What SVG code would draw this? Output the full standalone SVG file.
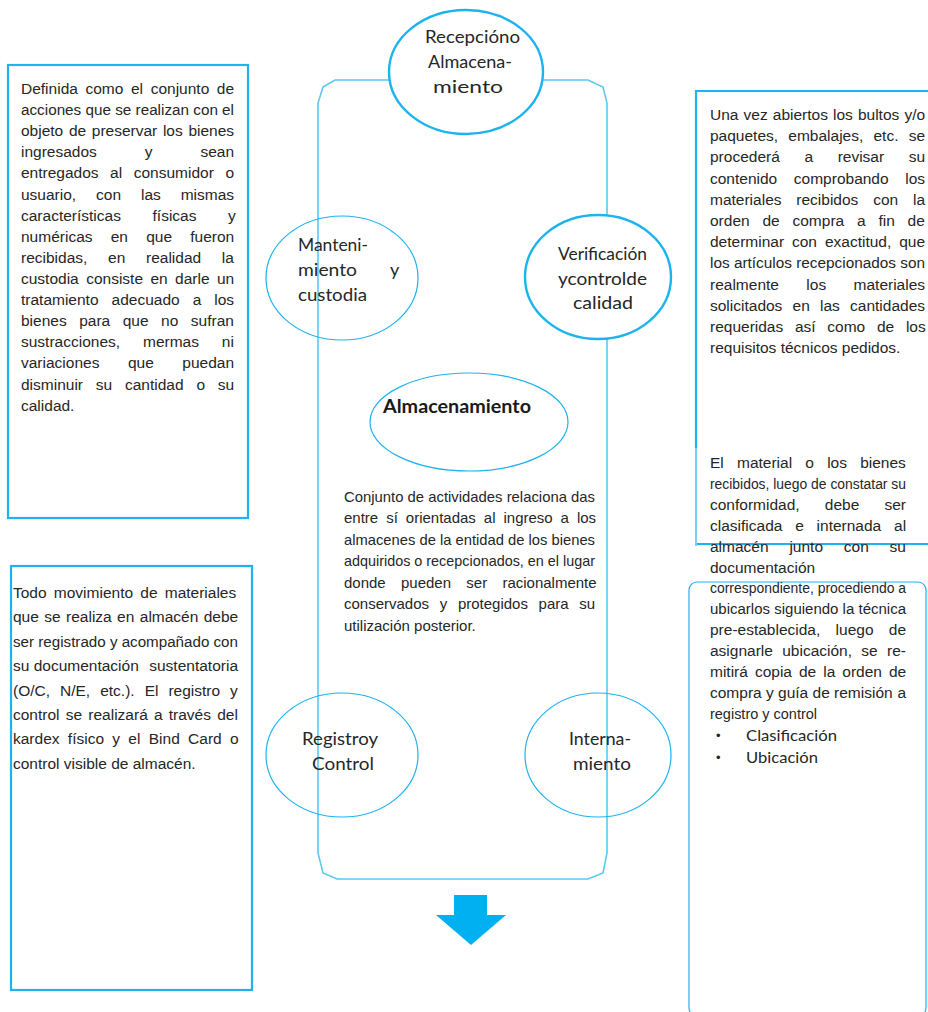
<svg xmlns="http://www.w3.org/2000/svg" width="928" height="1012" viewBox="0 0 928 1012">
<style>
.box{fill:none;stroke:#1DB3EE;stroke-width:2.2}
.thin{fill:none;stroke:#1DB3EE;stroke-width:1.2}
.loop{fill:none;stroke:#5CC8F2;stroke-width:1.6}
.ell{fill:none;stroke:#1DB3EE;stroke-width:1.2}
.ellb{fill:#fff;stroke:#1DB3EE;stroke-width:2.4}
.t{font-family:"Liberation Sans",Arial,sans-serif;font-size:15.5px;fill:#262626}
.c{font-family:"Liberation Sans",Arial,sans-serif;font-size:15px;fill:#262626}
.e{font-family:Lato,"Noto Sans",sans-serif;font-size:18px;fill:#262626}
.eb{font-family:Lato,"Noto Sans",sans-serif;font-size:18px;font-weight:bold;fill:#1a1a1a}
.b{font-family:Lato,"Noto Sans",sans-serif;font-size:16px;fill:#262626}
.dot{font-family:"Liberation Sans",Arial,sans-serif;font-size:13px;fill:#262626}
</style>
<rect width="928" height="1012" fill="#fff"/>

<g id="connectors">
<path class="loop" d="M390,80 L335,80 L323,87 L318,103 L318,853 L323,873 L337,879 L588,879 L603,873 L607,853 L607,103 L603,87 L588,80 L543,80"/>
<polygon points="454,895 487,895 487,915 506,915 471,945 436,915 454,915" fill="#00B0F0"/>
</g>

<g id="recepcion">
<ellipse class="ellb" cx="466" cy="72" rx="77" ry="62"/>
<text class="e" x="425" y="43" textLength="95" lengthAdjust="spacingAndGlyphs">Recepcióno</text>
<text class="e" x="428" y="68" textLength="84" lengthAdjust="spacingAndGlyphs">Almacena-</text>
<text class="e" x="433" y="93" textLength="70" lengthAdjust="spacingAndGlyphs">miento</text>
</g>

<g id="mantenimiento">
<ellipse class="ell" cx="342" cy="278" rx="76" ry="62"/>
<text class="e" x="298" y="251" textLength="70" lengthAdjust="spacingAndGlyphs">Manteni-</text>
<text class="e" x="298" y="276" textLength="59" lengthAdjust="spacingAndGlyphs">miento</text>
<text class="e" x="390" y="276">y</text>
<text class="e" x="298" y="301" textLength="69" lengthAdjust="spacingAndGlyphs">custodia</text>
</g>

<g id="verificacion">
<ellipse class="ellb" cx="598" cy="277" rx="73" ry="62"/>
<text class="e" x="558" y="260" textLength="89" lengthAdjust="spacingAndGlyphs">Verificación</text>
<text class="e" x="558" y="285" textLength="89" lengthAdjust="spacingAndGlyphs">ycontrolde</text>
<text class="e" x="573" y="309" textLength="60" lengthAdjust="spacingAndGlyphs">calidad</text>
</g>

<g id="almacenamiento">
<ellipse class="ell" cx="469" cy="422" rx="99" ry="49"/>
<text class="eb" x="383" y="413" textLength="148" lengthAdjust="spacingAndGlyphs">Almacenamiento</text>
</g>

<g id="registro">
<ellipse class="ell" cx="342" cy="755" rx="76" ry="62"/>
<text class="e" x="302" y="745" textLength="76" lengthAdjust="spacingAndGlyphs">Registroy</text>
<text class="e" x="312" y="770" textLength="62" lengthAdjust="spacingAndGlyphs">Control</text>
</g>

<g id="internamiento">
<ellipse class="ell" cx="598" cy="755" rx="73" ry="62"/>
<text class="e" x="569" y="745" textLength="62" lengthAdjust="spacingAndGlyphs">Interna-</text>
<text class="e" x="573" y="770" textLength="58" lengthAdjust="spacingAndGlyphs">miento</text>
</g>

<g id="definicion-almacenamiento">
<text class="c" x="344" y="501.5" textLength="251" lengthAdjust="spacingAndGlyphs">Conjunto de actividades relaciona das</text>
<text class="c" x="344" y="523" style="word-spacing:3.8px">entre sí orientadas al ingreso a los</text>
<text class="c" x="344" y="544.5" textLength="251" lengthAdjust="spacingAndGlyphs">almacenes de la entidad de los bienes</text>
<text class="c" x="344" y="566" textLength="251" lengthAdjust="spacingAndGlyphs">adquiridos o recepcionados, en el lugar</text>
<text class="c" x="344" y="587.5" style="word-spacing:11.1px">donde pueden ser racionalmente</text>
<text class="c" x="344" y="609" style="word-spacing:6.5px">conservados y protegidos para su</text>
<text class="c" x="344" y="630.5">utilización posterior.</text>
</g>

<g id="nota-mantenimiento">
<rect class="box" x="8" y="65" width="240" height="453"/>
<text class="t" x="21" y="94" style="word-spacing:3.3px">Definida como el conjunto de</text>
<text class="t" x="21" y="115" textLength="213" lengthAdjust="spacingAndGlyphs">acciones que se realizan con el</text>
<text class="t" x="21" y="136" style="word-spacing:1.35px">objeto de preservar los bienes</text>
<text class="t" x="21" y="157" style="word-spacing:43.6px">ingresados y sean</text>
<text class="t" x="21" y="178" style="word-spacing:7.25px">entregados al consumidor o</text>
<text class="t" x="21" y="199.5" style="word-spacing:15.6px">usuario, con las mismas</text>
<text class="t" x="21" y="220.6" style="word-spacing:27.3px">características físicas y</text>
<text class="t" x="21" y="241.7" style="word-spacing:13.9px">numéricas en que fueron</text>
<text class="t" x="21" y="262.8" style="word-spacing:16.4px">recibidas, en realidad la</text>
<text class="t" x="21" y="284" style="word-spacing:3.1px">custodia consiste en darle un</text>
<text class="t" x="21" y="305" style="word-spacing:8.7px">tratamiento adecuado a los</text>
<text class="t" x="21" y="326" style="word-spacing:8.2px">bienes para que no sufran</text>
<text class="t" x="21" y="347" style="word-spacing:18.6px">sustracciones, mermas ni</text>
<text class="t" x="21" y="368" style="word-spacing:24.2px">variaciones que puedan</text>
<text class="t" x="21" y="389.5" style="word-spacing:8.5px">disminuir su cantidad o su</text>
<text class="t" x="21" y="411">calidad.</text>
</g>

<g id="nota-registro">
<rect class="box" x="11" y="566" width="241" height="424"/>
<text class="t" x="13" y="598" style="word-spacing:2.9px">Todo movimiento de materiales</text>
<text class="t" x="13" y="622.4" style="word-spacing:1.1px">que se realiza en almacén debe</text>
<text class="t" x="13" y="646.8" textLength="225" lengthAdjust="spacingAndGlyphs">ser registrado y acompañado con</text>
<text class="t" x="13" y="671.2">su documentación</text>
<text class="t" x="238" y="671.2" text-anchor="end">sustentatoria</text>
<text class="t" x="13" y="695.6" style="word-spacing:5.7px">(O/C, N/E, etc.). El registro y</text>
<text class="t" x="13" y="720" style="word-spacing:1.9px">control se realizará a través del</text>
<text class="t" x="13" y="744.4" style="word-spacing:4px">kardex físico y el Bind Card o</text>
<text class="t" x="13" y="768.8">control visible de almacén.</text>
</g>

<g id="nota-verificacion">
<path class="box" d="M928,91 L696,91 L696,448"/>
<path class="thin" d="M696,448 L696,546"/>
<path class="box" d="M697,544 L928,544"/>
<text class="t" x="710" y="120" style="word-spacing:0.8px">Una vez abiertos los bultos y/o</text>
<text class="t" x="710" y="141.2" style="word-spacing:5.9px">paquetes, embalajes, etc. se</text>
<text class="t" x="710" y="162.4" style="word-spacing:20.3px">procederá a revisar su</text>
<text class="t" x="710" y="183.6" style="word-spacing:12.3px">contenido comprobando los</text>
<text class="t" x="710" y="204.8" style="word-spacing:10.5px">materiales recibidos con la</text>
<text class="t" x="710" y="226" style="word-spacing:8.5px">orden de compra a fin de</text>
<text class="t" x="710" y="247.2" style="word-spacing:3.6px">determinar con exactitud, que</text>
<text class="t" x="710" y="268.4" textLength="215" lengthAdjust="spacingAndGlyphs">los artículos recepcionados son</text>
<text class="t" x="710" y="289.6" style="word-spacing:23.1px">realmente los materiales</text>
<text class="t" x="710" y="310.8" style="word-spacing:5.9px">solicitados en las cantidades</text>
<text class="t" x="710" y="332" style="word-spacing:7.4px">requeridas así como de los</text>
<text class="t" x="710" y="353.2">requisitos técnicos pedidos.</text>
</g>

<g id="nota-internamiento">
<rect class="thin" x="689" y="582" width="237" height="434" rx="8" stroke-width="1.5"/>
<text class="t" x="710" y="468" style="word-spacing:8.9px">El material o los bienes</text>
<text class="t" x="710" y="488.9" textLength="196" lengthAdjust="spacingAndGlyphs">recibidos, luego de constatar su</text>
<text class="t" x="710" y="509.8" style="word-spacing:20.9px">conformidad, debe ser</text>
<text class="t" x="710" y="530.7" style="word-spacing:8.5px">clasificada e internada al</text>
<text class="t" x="710" y="551.6" style="word-spacing:16.5px">almacén junto con su</text>
<text class="t" x="710" y="572.5">documentación</text>
<text class="t" x="710" y="593.4" textLength="196" lengthAdjust="spacingAndGlyphs">correspondiente, procediendo a</text>
<text class="t" x="710" y="614.3" textLength="196" lengthAdjust="spacingAndGlyphs">ubicarlos siguiendo la técnica</text>
<text class="t" x="710" y="635.2" style="word-spacing:11px">pre-establecida, luego de</text>
<text class="t" x="710" y="656.1" style="word-spacing:5px">asignarle ubicación, se re-</text>
<text class="t" x="710" y="677" style="word-spacing:2.7px">mitirá copia de la orden de</text>
<text class="t" x="710" y="697.9">compra y guía de remisión</text>
<text class="t" x="906" y="697.9" text-anchor="end">a</text>
<text class="t" x="710" y="718.8" textLength="107" lengthAdjust="spacingAndGlyphs">registro y control</text>
<text class="dot" x="716" y="740">•</text>
<text class="b" x="746" y="741" textLength="91" lengthAdjust="spacingAndGlyphs">Clasificación</text>
<text class="dot" x="716" y="762">•</text>
<text class="b" x="746" y="763" textLength="72" lengthAdjust="spacingAndGlyphs">Ubicación</text>
</g>
</svg>
